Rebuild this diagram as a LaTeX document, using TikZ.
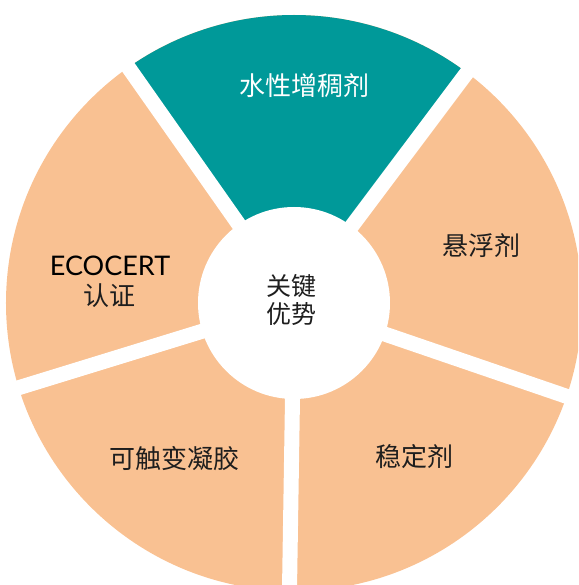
\documentclass[tikz,border=0pt]{standalone}
\usepackage{fontspec}
\setmainfont{Lato}
\newfontfamily\cjk{Noto Sans CJK SC}
\definecolor{tealseg}{HTML}{009999}
\definecolor{peachseg}{HTML}{F9C192}
\definecolor{ink}{HTML}{1E1E1E}
\begin{document}
\begin{tikzpicture}[x=1pt,y=1pt,
  seglabel/.style={font=\cjk\fontsize{26}{28}\selectfont, text=ink, inner sep=0pt},
  gapline/.style={white, line width=15pt},
  hub/.style={circle, fill=white, minimum size=192pt, inner sep=0pt}]
\useasboundingbox (-294,-282) rectangle (284,303);
\clip (-294,-282) rectangle (284,303);
% ring
\fill[peachseg] (0,0) circle (288);
\fill[tealseg] (0,0) -- (53.1:288) arc[start angle=53.1, end angle=125.1, radius=288] -- cycle;
% gaps
\foreach \a in {269.1,341.1,53.1,125.1,197.1}
  \draw[gapline] (0,0) -- (\a:310);
% hub
\node[hub] (hub) at (0,0) {};
\node[font=\cjk\fontsize{25}{28}\selectfont, text=ink, align=center, inner sep=0pt] (hubtext) at (-3,3) {关键\\优势};
% labels
\node[seglabel, text=white] (water) at (10,217) {水性增稠剂};
\node[seglabel] (susp) at (187,57) {悬浮剂};
\node[seglabel] (stab) at (120,-154) {稳定剂};
\node[seglabel] (thixo) at (-119,-156) {可触变凝胶};
\node[font=\fontsize{27}{30}\selectfont, text=black, inner sep=0pt] (eco) at (-184,37) {ECOCERT};
\node[seglabel] (cert) at (-184.5,7) {认证};
\end{tikzpicture}
\end{document}
